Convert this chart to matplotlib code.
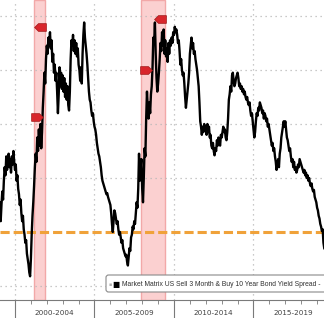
import numpy as np
import matplotlib
matplotlib.use("Agg")
import matplotlib.pyplot as plt
from matplotlib.path import Path
from matplotlib.patches import FancyBboxPatch

# spread (%) sampled every 0.05 yr, starting 1999.05
start_year = 1999.05
step = 0.05
spread = [
    # 1999
    0.55, 0.20, 0.50, 0.75, 0.60, 0.95, 1.20, 1.05, 1.40, 1.15, 1.30, 1.45, 1.20, 1.35, 1.10, 1.40, 1.25, 1.50, 1.30, 1.15,
    # 2000
    1.25, 0.95, 1.05, 0.80, 0.70, 0.50, 0.60, 0.35, 0.20, 0.30, 0.05, -0.05, -0.20, -0.15, -0.40, -0.50, -0.60, -0.75, -0.82, -0.50,
    # 2001
    -0.05, 0.30, 0.55, 0.85, 1.20, 1.45, 1.30, 1.75, 1.50, 1.90, 1.60, 2.00, 1.55, 1.85, 2.30, 2.60, 2.95, 2.75, 3.20, 3.45,
    # 2002
    3.30, 3.60, 3.45, 3.70, 3.40, 3.55, 3.15, 3.30, 2.95, 3.10, 2.80, 2.95, 2.60, 2.20, 2.55, 3.05, 2.70, 2.95, 2.65, 2.90,
    # 2003
    2.60, 2.85, 2.50, 2.75, 2.45, 2.70, 2.35, 2.25, 2.60, 3.20, 3.55, 3.45, 3.65, 3.35, 3.55, 3.30, 3.50, 3.25, 3.40, 3.10,
    # 2004
    3.00, 2.80, 3.05, 2.75, 3.30, 3.65, 3.88, 3.60, 3.45, 3.30, 3.10, 2.85, 2.60, 2.45, 2.40, 2.25, 2.15, 2.20, 2.05, 1.95,
    # 2005
    1.90, 1.80, 1.65, 1.55, 1.45, 1.40, 1.30, 1.20, 1.05, 0.95, 0.90, 0.85, 0.80, 0.75, 0.70, 0.72, 0.65, 0.60, 0.55, 0.50,
    # 2006
    0.35, 0.15, 0.00, 0.20, 0.40, 0.35, 0.25, 0.15, 0.20, 0.05, -0.05, 0.00, -0.10, -0.20, -0.15, -0.30, -0.35, -0.40, -0.45, -0.42,
    # 2007
    -0.55, -0.62, -0.45, -0.30, -0.35, -0.10, -0.05, 0.10, 0.05, 0.20, 0.15, 0.35, 0.55, 0.45, 0.80, 1.45, 0.95, 1.20, 1.35, 0.80,
    # 2008
    0.55, 1.00, 1.55, 1.40, 2.10, 2.60, 2.30, 2.10, 2.40, 2.20, 2.55, 2.70, 3.05, 3.60, 3.50, 3.88, 3.30, 2.85, 2.60, 2.75,
    # 2009
    2.95, 3.20, 3.50, 3.35, 3.70, 3.45, 3.75, 3.30, 3.55, 3.25, 3.40, 3.15, 3.50, 3.30, 3.55, 3.45, 3.60, 3.50, 3.70, 3.65,
    # 2010
    3.80, 3.70, 3.75, 3.65, 3.50, 3.55, 3.35, 3.10, 3.20, 3.00, 2.90, 2.95, 2.75, 2.50, 2.30, 2.45, 2.60, 2.75, 2.95, 3.30,
    # 2011
    3.45, 3.60, 3.40, 3.50, 3.30, 3.35, 3.20, 3.10, 3.00, 2.85, 2.70, 2.40, 2.05, 1.95, 1.80, 1.95, 1.85, 2.00, 1.90, 1.95,
    # 2012
    1.80, 2.00, 1.85, 1.95, 1.75, 1.80, 1.60, 1.55, 1.65, 1.50, 1.42, 1.55, 1.50, 1.70, 1.60, 1.75, 1.65, 1.60, 1.80, 1.75,
    # 2013
    1.85, 1.95, 1.85, 1.90, 1.75, 1.70, 1.85, 2.10, 2.45, 2.55, 2.70, 2.60, 2.90, 2.95, 2.80, 2.70, 2.75, 2.85, 2.90, 2.95,
    # 2014
    2.85, 2.70, 2.75, 2.65, 2.70, 2.60, 2.65, 2.55, 2.60, 2.50, 2.45, 2.50, 2.40, 2.35, 2.40, 2.25, 2.15, 2.20, 2.05, 1.90,
    # 2015
    1.75, 1.85, 2.05, 2.20, 2.15, 2.30, 2.25, 2.40, 2.35, 2.30, 2.20, 2.25, 2.10, 2.20, 2.15, 2.05, 2.10, 1.95, 2.00, 1.90,
    # 2016
    1.80, 1.70, 1.60, 1.65, 1.50, 1.55, 1.40, 1.30, 1.15, 1.25, 1.35, 1.20, 1.45, 1.55, 1.75, 1.85, 1.95, 2.05, 1.95, 2.05,
    # 2017
    1.90, 1.75, 1.70, 1.60, 1.50, 1.55, 1.40, 1.30, 1.35, 1.20, 1.30, 1.15, 1.20, 1.10, 1.15, 1.25, 1.20, 1.35, 1.30, 1.25,
    # 2018
    1.20, 1.15, 1.10, 1.15, 1.05, 1.10, 1.00, 1.05, 0.95, 1.00, 0.90, 0.85, 0.90, 0.80, 0.75, 0.78, 0.65, 0.60, 0.55, 0.45,
    # 2019
    0.40, 0.30, 0.25, 0.15, 0.10, 0.02, 0.05, -0.20, -0.30,
]
years = start_year + step * np.arange(len(spread))

recessions = [(2001.17, 2001.88), (2007.92, 2009.46)]
# event flags
flags_left = [(2001.55, 3.80), (2009.15, 3.94)]
flags_right = [(2001.40, 2.13), (2008.22, 3.00)]

period_labels = ["2000-2004", "2005-2009", "2010-2014", "2015-2019"]
period_mid = [2002.5, 2007.5, 2012.5, 2017.5]
legend_text = "Market Matrix US Sell 3 Month & Buy 10 Year Bond Yield Spread -"

fig = plt.figure(figsize=(3.24, 3.18), dpi=100)
ax = fig.add_axes([0, 18 / 318, 1, 300 / 318])
ax.set_xlim(1999.057, 2019.434)
ax.set_ylim(-1.259, 4.296)

for a, b in recessions:
    ax.axvspan(a, b, facecolor="#fbd0d0", edgecolor="#f2a8a8", lw=1.0, zorder=1)

for v in [-1, 1, 2, 3, 4]:
    ax.axhline(v, color="#b8b8b8", lw=0.9, ls=(0, (1, 3)), zorder=2)
for yr in [2000, 2005, 2010, 2015]:
    ax.axvline(yr, color="#b8b8b8", lw=0.9, ls=(0, (1, 3)), zorder=2)

ax.axhline(0, color="#f0a23a", lw=2.2, ls=(0, (3, 1.3)), zorder=3)

ax.plot(years, spread, color="black", lw=1.7, zorder=4)

left_flag = Path([(-1, 0), (-0.35, 0.65), (1, 0.65), (1, -0.65), (-0.35, -0.65), (-1, 0)])
right_flag = Path([(1, 0), (0.35, 0.65), (-1, 0.65), (-1, -0.65), (0.35, -0.65), (1, 0)])
for x, y in flags_left:
    ax.plot(x, y, marker=left_flag, ms=8.5, mfc="#d8262c", mec="#9e1a1a", mew=0.5, zorder=5)
for x, y in flags_right:
    ax.plot(x, y, marker=right_flag, ms=8.5, mfc="#d8262c", mec="#9e1a1a", mew=0.5, zorder=5)

for s in ["left", "right", "top"]:
    ax.spines[s].set_visible(False)
ax.spines["bottom"].set_color("#7a7a7a")
ax.spines["bottom"].set_linewidth(0.8)
ax.set_yticks([])
ax.set_xticks([2000, 2005, 2010, 2015])
ax.set_xticklabels([])
ax.set_xticks(range(2000, 2020), minor=True)
ax.tick_params(axis="x", which="major", length=14, width=0.8, color="#7a7a7a")
ax.tick_params(axis="x", which="minor", length=3, width=0.6, color="#7a7a7a")
for lab, m in zip(period_labels, period_mid):
    ax.text(m, -13 / 300, lab, transform=ax.get_xaxis_transform(), ha="center", va="center",
            fontsize=5.2, color="#404040", clip_on=False)

# legend box
box = FancyBboxPatch((106 / 324, 1 - 292 / 318), 0.7, 17 / 318,
                     boxstyle="round,pad=0,rounding_size=0.008",
                     transform=fig.transFigure, facecolor="white", edgecolor="#8a8a8a",
                     lw=0.8, zorder=6)
fig.patches.append(box)
fig.text(110 / 324, 1 - 284 / 318, "\u25aa", fontsize=3.5, color="#b0b0b0",
         ha="center", va="center", zorder=7)
fig.text(116 / 324, 1 - 284 / 318, "\u25a0", fontsize=5.5, color="black",
         ha="center", va="center", zorder=7)
fig.text(122 / 324, 1 - 284.5 / 318, legend_text, fontsize=4.85, color="#303030", zorder=7,
         ha="left", va="center", family=["Liberation Sans", "DejaVu Sans"])

fig.savefig("out.png", dpi=100)
